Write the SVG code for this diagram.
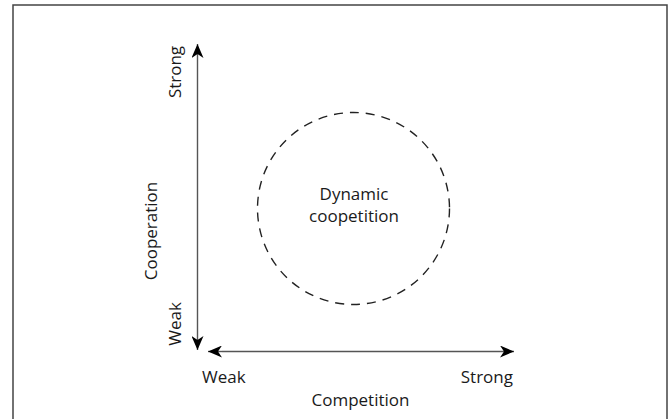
<svg xmlns="http://www.w3.org/2000/svg" width="669" height="419" viewBox="0 0 669 419">
<defs>
<marker id="ah" viewBox="0 0 14 12" refX="14" refY="6" markerWidth="14" markerHeight="12" markerUnits="userSpaceOnUse" orient="auto">
<path d="M0,0 L14,6 L0,12 L4,6 Z" fill="#000"/>
</marker>
<style>
.t{font-family:"Open Sans","DejaVu Sans",sans-serif;font-size:17px;fill:#1a1a1a}
.ax{stroke:#555;stroke-width:1.4;fill:none}
</style>
</defs>
<rect width="669" height="419" fill="#fff"/>
<path d="M13,425 V5 H667 V425" fill="none" stroke="#444" stroke-width="1.5"/>
<g id="connectors">
<line class="ax" x1="197.5" y1="60" x2="197.5" y2="44" marker-end="url(#ah)"/>
<line class="ax" x1="197.5" y1="60" x2="197.5" y2="350" marker-end="url(#ah)"/>
<line class="ax" x1="222" y1="351.5" x2="208" y2="351.5" marker-end="url(#ah)"/>
<line class="ax" x1="222" y1="351.5" x2="514" y2="351.5" marker-end="url(#ah)"/>
</g>
<g id="cooperation-axis">
<text class="t" text-anchor="middle" transform="translate(181,72) rotate(-90)">Strong</text>
<text class="t" text-anchor="middle" transform="translate(157,231) rotate(-90)">Cooperation</text>
<text class="t" text-anchor="middle" transform="translate(181,324) rotate(-90)">Weak</text>
</g>
<g id="competition-axis">
<text class="t" x="202" y="383">Weak</text>
<text class="t" x="513" y="383" text-anchor="end">Strong</text>
<text class="t" x="360.5" y="406" text-anchor="middle">Competition</text>
</g>
<g id="dynamic-coopetition">
<circle cx="353.5" cy="208.5" r="96" fill="none" stroke="#222" stroke-width="1.4" stroke-dasharray="9 7"/>
<text class="t" x="354" y="200" text-anchor="middle">Dynamic</text>
<text class="t" x="354" y="222" text-anchor="middle">coopetition</text>
</g>
</svg>
